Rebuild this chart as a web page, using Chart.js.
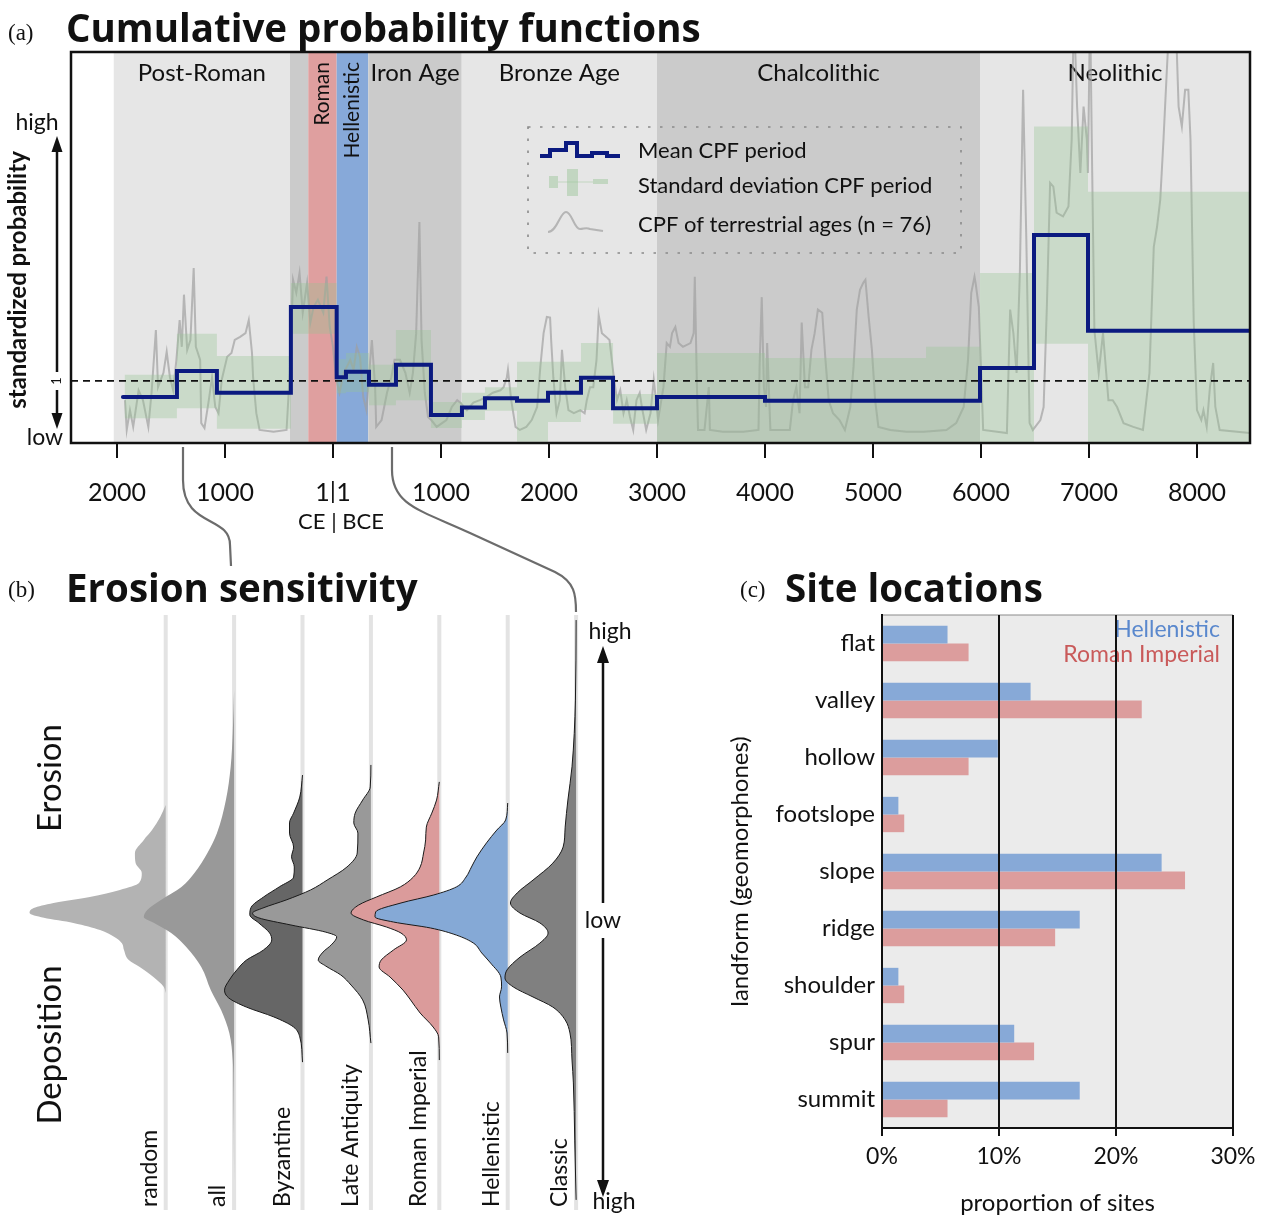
<!DOCTYPE html>
<html>
<head>
<meta charset="utf-8">
<title>Cumulative probability functions, erosion sensitivity and site locations</title>
<script src="https://cdn.jsdelivr.net/npm/chart.js@4.4.1/dist/chart.umd.min.js"></script>
<style>
  html, body { margin: 0; padding: 0; background: #fff; }
  #page { position: relative; width: 1264px; height: 1218px; overflow: hidden; }
  #page canvas { position: absolute; }
  #cpf { left: 0; top: 0; }
  #erosion { left: 0; top: 600px; }
  #sites { left: 720px; top: 600px; }
  #overlay { left: 0; top: 0; pointer-events: none; }
</style>
</head>
<body>
<div id="page">
  <canvas id="cpf" width="1264" height="545"></canvas>
  <canvas id="erosion" width="640" height="618"></canvas>
  <canvas id="sites" width="544" height="618"></canvas>
  <canvas id="overlay" width="1264" height="1218"></canvas>
</div>
<script>
Chart.defaults.font.family = "Lato";
Chart.defaults.color = "#111";

// (a) years: negative = CE, positive = BCE
const tickYears = [-2000, -1000, 0, 1000, 2000, 3000, 4000, 5000, 6000, 7000, 8000];
const yearMin = -2426;
const yearMax = 8491;

const periodNames = ["Post-Roman", "", "Roman", "Hellenistic", "Iron Age", "Bronze Age", "Chalcolithic", "Neolithic"];
const periodStart = [-2030, -398, -229, 34, 327, 1192, 3000, 5991];
const periodEnd = [-398, -229, 34, 327, 1192, 3000, 5991, 8491];
const periodColors = ["#e6e6e6", "#cbcbcb", "#df9f9f", "#87a9d9", "#cbcbcb", "#e6e6e6", "#cbcbcb", "#e6e6e6"];
const uprightNames = ["Roman", "Hellenistic"];

const meanBreaks = [-1945, -1445, -1075, -390, 34, 120, 333, 583, 907, 1194, 1407, 1704, 1991, 2296, 2593, 3000, 4000, 5991, 6491, 6991, 8600];
const meanValues = [0.74, 1.16, 0.81, 2.19, 1.06, 1.15, 0.94, 1.26, 0.45, 0.57, 0.72, 0.68, 0.81, 1.05, 0.56, 0.74, 0.68, 1.21, 3.35, 1.81];

const sdBreaks = [-1930, -1445, -1075, -390, 34, 120, 333, 583, 907, 1194, 1407, 1704, 1991, 2296, 2593, 3000, 4000, 5491, 5991, 6491, 6991, 8600];
const sdLow = [0.40, 0.56, 0.23, 1.76, 0.80, 0.82, 0.61, 0.69, 0.24, 0.37, 0.52, 0.02, 0.34, 0.53, 0.31, 0, 0, 0, 0, 1.60, 0];
const sdHigh = [1.10, 1.76, 1.40, 2.58, 1.35, 1.45, 1.26, 1.82, 0.66, 0.81, 0.90, 1.31, 1.31, 1.61, 0.79, 1.45, 1.37, 1.55, 2.74, 5.10, 4.05];

const cpfYears = [
  -1926, -1910, -1880, -1850, -1800, -1760, -1710, -1680, -1640, -1620, -1570, -1540, -1510, -1480, -1450, -1420, -1400, -1380, -1350, -1320,
  -1290, -1270, -1230, -1220, -1190, -1150, -1120, -1090, -1060, -1030, -980, -940, -910, -860, -810, -780, -750, -740, -710, -680,
  -550, -430, -400, -370, -340, -310, -280, -240, -210, -180, -140, -90, -60, -30, 0, 30, 60, 100, 160, 190,
  220, 250, 280, 310, 340, 360, 390, 400, 450, 500, 540, 570, 620, 670, 710, 740, 770, 800, 820, 850,
  880, 910, 960, 1010, 1050, 1100, 1150, 1180, 1240, 1300,
  1360, 1420, 1480, 1550, 1580, 1610, 1620, 1650, 1690, 1730, 1790, 1840, 1890, 1920, 1950, 1980, 2010, 2020, 2040, 2070,
  2100, 2120, 2150, 2180, 2230, 2290, 2330, 2350, 2380, 2410, 2440, 2460, 2490, 2530, 2560, 2600, 2630, 2660, 2690, 2720,
  2750, 2780, 2810, 2840, 2860, 2900, 2940, 2970, 3010, 3060, 3090, 3120, 3140, 3170, 3200, 3240, 3310, 3340, 3350, 3370, 3380,
  3440, 3480, 3490, 3610, 3800, 3940, 3950, 3970, 3990, 4010, 4020, 4050, 4230, 4260, 4290, 4320, 4340, 4370, 4400, 4430,
  4460, 4490, 4530, 4560, 4590, 4630, 4690, 4740, 4790, 4820, 4850, 4880, 4910, 4930, 4960, 4990, 5020, 5050, 5160, 5310,
  5470, 5680, 5770, 5840, 5880, 5910, 5940, 5950, 5980, 6000, 6020,
  6240, 6270, 6300, 6330, 6360, 6390, 6420, 6450, 6480, 6550, 6580, 6610, 6640, 6670, 6700, 6760, 6810, 6840, 6860, 6890,
  6920, 6950, 6980, 6990, 7010, 7030, 7050, 7090, 7130, 7180, 7220, 7260, 7320, 7410, 7500, 7560, 7600, 7630, 7660, 7690,
  7720, 7750, 7800, 7830, 7860, 7890, 7920, 7940, 7970, 8000, 8040, 8060, 8090, 8120, 8150, 8170, 8210, 8490
];
const cpfValues = [
  0.69, 0.21, 0.53, 0.26, 0.85, 0.69, 0.26, 0.81, 1.82, 0.90, 1.13, 1.47, 1.06, 0.85, 1.34, 1.98, 1.55, 2.39, 1.50, 1.66,
  2.82, 1.55, 1.34, 0.32, 0.24, 0.69, 1.06, 0.58, 0.48, 1.02, 1.39, 1.45, 1.66, 1.71, 1.77, 1.98, 1.45, 1.06, 0.48, 0.21,
  0.18, 0.21, 1.13, 2.63, 2.42, 2.74, 2.10, 2.58, 1.94, 2.19, 2.31, 2.10, 2.68, 1.87, 1.55, 1.02, 0.81, 1.13, 1.34, 1.18,
  1.55, 1.39, 0.74, 0.53, 1.23, 1.66, 0.90, 0.26, 0.37, 0.81, 1.06, 1.34, 1.34, 1.13, 0.81, 1.13, 1.77, 3.56, 1.66, 0.81,
  0.42, 0.37, 0.26, 0.32, 0.37, 0.58, 0.69, 0.65, 0.53, 0.65,
  0.69, 0.74, 0.81, 0.85, 0.90, 1.06, 1.18, 0.69, 0.26, 0.21, 0.26, 0.37, 0.58, 1.23, 1.77, 2.03, 2.02, 1.66, 1.06, 0.48,
  0.69, 1.50, 0.90, 0.53, 0.48, 0.53, 0.48, 0.69, 0.90, 0.90, 1.34, 2.06, 1.77, 1.71, 1.66, 1.06, 0.69, 0.85, 0.48, 0.69,
  0.42, 0.21, 0.69, 0.81, 0.58, 0.21, 0.48, 1.02, 0.37, 0.90, 1.61, 1.55, 1.77, 1.87, 1.61, 1.55, 1.61, 1.77, 2.68, 0.90, 0.21,
  0.21, 0.90, 0.21, 0.18, 0.18, 0.21, 1.23, 2.35, 0.90, 0.58, 1.61, 0.21, 0.21, 0.69, 0.90, 0.48, 1.94, 0.90, 0.90, 1.50,
  1.77, 2.15, 2.10, 1.34, 0.69, 0.48, 0.37, 0.21, 0.58, 1.23, 2.15, 2.47, 2.58, 2.63, 2.03, 1.50, 0.69, 0.26, 0.21, 0.18,
  0.18, 0.21, 0.32, 0.58, 1.34, 2.42, 2.68, 2.58, 2.19, 1.23, 0.21,
  0.16, 2.15, 1.77, 1.13, 2.74, 5.69, 3.27, 0.32, 0.21, 0.37, 0.58, 2.19, 4.19, 4.13, 3.71, 3.65, 3.81, 4.89, 7.00, 5.42,
  4.35, 5.42, 4.89, 4.35, 7.00, 4.35, 1.82, 1.13, 1.77, 0.69, 0.69, 0.58, 0.32, 0.26, 0.21, 1.13, 3.16, 3.48, 3.92, 4.89,
  5.97, 7.00, 7.00, 5.42, 5.10, 5.69, 5.69, 4.89, 1.94, 0.53, 0.37, 0.53, 0.26, 0.90, 1.29, 0.58, 0.21, 0.16
];

// (b) densities as [level, width]; level +100 = high erosion, -100 = high deposition, width in column spacings
const erosionColumns = ["random", "all", "Byzantine", "Late Antiquity", "Roman Imperial", "Hellenistic", "Classic"];
const randomDensity = [[36.1, 0], [32.1, 0.08], [27.7, 0.2], [24.4, 0.32], [20.0, 0.45], [16.6, 0.44], [13.3, 0.35], [9.9, 0.39], [7.6, 0.67], [5.2, 1.11], [3.2, 1.64], [1.5, 1.93], [-0.2, 1.99], [-1.8, 1.78], [-3.5, 1.35], [-5.9, 0.96], [-8.2, 0.75], [-10.3, 0.64], [-12.6, 0.61], [-16.0, 0.54], [-18.3, 0.38], [-21.7, 0.18], [-25.0, 0.03], [-27.1, 0]];
const allDensity = [[74.8, 0], [60.3, 0.02], [49.0, 0.05], [37.8, 0.12], [26.7, 0.25], [20.0, 0.39], [13.3, 0.58], [8.6, 0.77], [4.2, 1.07], [0.8, 1.27], [-1.5, 1.32], [-3.5, 1.17], [-6.9, 0.92], [-11.6, 0.7], [-18.3, 0.48], [-26.1, 0.34], [-32.8, 0.19], [-40.5, 0.07], [-49.6, 0.02], [-58.7, 0.01], [-89.9, 0]];
const byzantineDensity = [[46.2, 0], [38.8, 0.04], [33.4, 0.13], [30.1, 0.19], [26.7, 0.19], [22.0, 0.13], [18.7, 0.16], [15.3, 0.12], [11.9, 0.13], [8.6, 0.34], [5.2, 0.57], [1.8, 0.75], [-0.8, 0.77], [-3.5, 0.64], [-6.9, 0.48], [-9.2, 0.45], [-12.6, 0.57], [-16.0, 0.82], [-19.3, 0.96], [-22.7, 1.07], [-26.1, 1.14], [-28.7, 1.08], [-31.8, 0.82], [-35.1, 0.42], [-38.5, 0.13], [-41.8, 0.04], [-50.3, 0]];
const lateAntiquityDensity = [[49.6, 0], [42.2, 0.01], [37.8, 0.12], [33.4, 0.23], [30.1, 0.25], [26.7, 0.19], [20.0, 0.2], [15.3, 0.35], [10.9, 0.64], [7.6, 0.88], [4.2, 1.24], [1.5, 1.58], [-0.2, 1.73], [-1.8, 1.64], [-4.2, 1.17], [-6.6, 0.66], [-8.2, 0.5], [-10.9, 0.58], [-13.3, 0.7], [-16.0, 0.77], [-18.0, 0.66], [-21.0, 0.44], [-24.4, 0.29], [-29.4, 0.12], [-36.1, 0.04], [-43.9, 0]];
const romanImperialDensity = [[43.9, 0], [37.8, 0.04], [33.4, 0.11], [28.7, 0.19], [24.4, 0.2], [20.0, 0.23], [15.3, 0.28], [11.9, 0.38], [8.6, 0.57], [5.2, 0.92], [2.5, 1.18], [-0.2, 1.29], [-2.5, 1.11], [-4.9, 0.77], [-6.9, 0.56], [-9.2, 0.48], [-12.6, 0.67], [-16.0, 0.85], [-18.3, 0.88], [-21.7, 0.72], [-26.1, 0.53], [-29.4, 0.42], [-33.8, 0.28], [-38.5, 0.09], [-41.8, 0.01], [-49.6, 0]];
const hellenisticDensity = [[36.8, 0], [31.1, 0.03], [27.7, 0.16], [23.4, 0.31], [18.7, 0.45], [15.3, 0.53], [11.9, 0.61], [8.6, 0.75], [5.9, 1.08], [3.2, 1.56], [0.2, 1.93], [-1.5, 1.94], [-3.2, 1.67], [-5.2, 1.13], [-7.6, 0.75], [-10.3, 0.5], [-13.6, 0.38], [-17.0, 0.25], [-21.7, 0.1], [-25.0, 0.09], [-28.4, 0.12], [-31.8, 0.1], [-36.1, 0.06], [-40.5, 0.01], [-47.2, 0]];
const classicDensity = [[98.3, 0], [71.4, 0.01], [49.0, 0.06], [37.8, 0.12], [28.7, 0.16], [22.0, 0.19], [16.6, 0.34], [10.9, 0.63], [6.6, 0.86], [3.2, 0.96], [-0.2, 0.82], [-3.5, 0.53], [-6.9, 0.41], [-10.3, 0.53], [-15.0, 0.82], [-19.3, 1.01], [-22.0, 1.04], [-25.0, 0.92], [-28.4, 0.63], [-31.8, 0.34], [-36.1, 0.16], [-40.5, 0.09], [-49.6, 0.06], [-57.3, 0.04], [-76.5, 0.02], [-96.6, 0]];

// (c) proportion of sites, %
const landforms = ["flat", "valley", "hollow", "footslope", "slope", "ridge", "shoulder", "spur", "summit"];
const hellenisticShare = [5.6, 12.7, 9.9, 1.4, 23.9, 16.9, 1.4, 11.3, 16.9];
const romanShare = [7.4, 22.2, 7.4, 1.9, 25.9, 14.8, 1.9, 13.0, 5.6];
const shareTicks = [0, 10, 20, 30];

const navy = "#0b1a80";
const sdFill = "rgba(150, 195, 148, 0.34)";
const cpfGrey = "rgba(160, 160, 160, 0.7)";

const drawLegendA = (ctx) => {
  ctx.save();
  ctx.setLineDash([2.5, 9.5]);
  ctx.lineWidth = 1.6;
  ctx.strokeStyle = "#8a8a8a";
  ctx.strokeRect(528, 127, 433, 126);
  ctx.setLineDash([]);

  ctx.strokeStyle = navy;
  ctx.lineWidth = 4;
  ctx.beginPath();
  [[540, 156], [550, 156], [550, 150], [566, 150], [566, 143], [577, 143], [577, 156], [592, 156], [592, 153], [607, 153], [607, 156], [620, 156]]
    .forEach(([px, py], i) => (i ? ctx.lineTo(px, py) : ctx.moveTo(px, py)));
  ctx.stroke();

  ctx.fillStyle = "rgba(150, 195, 148, 0.45)";
  ctx.fillRect(549, 176, 9, 12);
  ctx.fillRect(567, 169, 11, 27);
  ctx.fillRect(593, 179, 15, 5);
  ctx.fillRect(558, 181.5, 35, 1);

  ctx.strokeStyle = cpfGrey;
  ctx.lineWidth = 2;
  ctx.beginPath();
  ctx.moveTo(548, 232);
  ctx.bezierCurveTo(557, 232, 560, 212, 566, 212);
  ctx.bezierCurveTo(572, 212, 574, 229, 580, 229);
  ctx.bezierCurveTo(584, 229, 586, 227, 590, 229);
  ctx.lineTo(603, 231);
  ctx.stroke();

  ctx.fillStyle = "#111";
  ctx.font = "22px Lato";
  ctx.textAlign = "left";
  ctx.textBaseline = "middle";
  ctx.fillText("Mean CPF period", 638, 151);
  ctx.fillText("Standard deviation CPF period", 638, 186);
  ctx.fillText("CPF of terrestrial ages (n = 76)", 638, 225);
  ctx.restore();
};

const cpfDecor = {
  id: "cpfDecor",
  beforeDatasetsDraw(chart) {
    const { ctx, chartArea: a, scales: { x } } = chart;
    ctx.save();
    ctx.beginPath();
    ctx.rect(a.left, a.top, a.width, a.height);
    ctx.clip();
    periodStart.forEach((s, i) => {
      const x0 = x.getPixelForValue(s);
      const x1 = x.getPixelForValue(periodEnd[i]);
      ctx.fillStyle = periodColors[i];
      ctx.fillRect(x0, a.top, x1 - x0, a.height);
    });
    ctx.fillStyle = "#111";
    periodNames.forEach((name, i) => {
      if (!name) return;
      const mid = x.getPixelForValue((periodStart[i] + periodEnd[i]) / 2);
      if (uprightNames.includes(name)) {
        ctx.save();
        ctx.translate(mid, a.top + 10);
        ctx.rotate(-Math.PI / 2);
        ctx.font = "21px Lato";
        ctx.textAlign = "right";
        ctx.textBaseline = "middle";
        ctx.fillText(name, 0, 0);
        ctx.restore();
      } else {
        ctx.font = "24px Lato";
        ctx.textAlign = "center";
        ctx.textBaseline = "middle";
        ctx.fillText(name, mid, a.top + 21);
      }
    });
    ctx.restore();
  },
  afterDatasetsDraw(chart) {
    const { ctx, chartArea: a } = chart;
    ctx.save();
    ctx.strokeStyle = "#111";
    ctx.lineWidth = 2.5;
    ctx.strokeRect(a.left, a.top, a.width, a.height);
    ctx.restore();
    drawLegendA(ctx);
  },
  afterDraw(chart) {
    const { ctx, scales: { x, y } } = chart;
    ctx.save();
    ctx.fillStyle = "#111";
    ctx.translate(18, 280);
    ctx.rotate(-Math.PI / 2);
    ctx.font = "bold 24px Lato";
    ctx.textAlign = "center";
    ctx.textBaseline = "middle";
    ctx.fillText("standardized probability", 0, 0);
    ctx.restore();

    ctx.save();
    ctx.fillStyle = "#111";
    ctx.strokeStyle = "#111";
    ctx.font = "23px Lato";
    ctx.textAlign = "center";
    ctx.textBaseline = "middle";
    ctx.fillText("high", 37, 123);
    ctx.fillText("low", 45, 438);
    const oneY = y.getPixelForValue(1);
    ctx.lineWidth = 2.5;
    ctx.beginPath();
    ctx.moveTo(57, 150);
    ctx.lineTo(57, oneY - 9);
    ctx.moveTo(57, oneY + 9);
    ctx.lineTo(57, 416);
    ctx.stroke();
    ctx.beginPath();
    ctx.moveTo(57, 136); ctx.lineTo(51.5, 152); ctx.lineTo(62.5, 152); ctx.closePath();
    ctx.moveTo(57, 429); ctx.lineTo(51.5, 413); ctx.lineTo(62.5, 413); ctx.closePath();
    ctx.fill();
    ctx.save();
    ctx.translate(57, oneY);
    ctx.rotate(-Math.PI / 2);
    ctx.font = "13px Lato";
    ctx.fillText("1", 0, 0);
    ctx.restore();
    ctx.font = "22px Lato";
    ctx.fillText("CE | BCE", x.getPixelForValue(0) + 8, 522);
    ctx.restore();
  }
};

const meanPoints = meanValues.map((v, i) => ({ x: meanBreaks[i], y: v }));
meanPoints.push({ x: meanBreaks[meanBreaks.length - 1], y: meanValues[meanValues.length - 1] });

const sdLowPoints = [];
const sdHighPoints = [];
sdLow.forEach((v, i) => {
  sdLowPoints.push({ x: sdBreaks[i], y: v }, { x: sdBreaks[i + 1], y: v });
  sdHighPoints.push({ x: sdBreaks[i], y: sdHigh[i] }, { x: sdBreaks[i + 1], y: sdHigh[i] });
});

new Chart(document.getElementById("cpf"), {
  type: "line",
  data: {
    datasets: [
      { label: "CPF of terrestrial ages (n = 76)", data: cpfYears.map((yr, i) => ({ x: yr, y: cpfValues[i] })), borderColor: cpfGrey, borderWidth: 2, order: 5 },
      { label: "sd low", data: sdLowPoints, borderWidth: 0, fill: false, order: 4 },
      { label: "Standard deviation CPF period", data: sdHighPoints, borderWidth: 0, fill: "-1", backgroundColor: sdFill, order: 4 },
      { label: "reference", data: [{ x: yearMin, y: 1 }, { x: yearMax, y: 1 }], borderColor: "#111", borderWidth: 1.8, borderDash: [7, 5], order: 3 },
      { label: "Mean CPF period", data: meanPoints, borderColor: navy, borderWidth: 4, stepped: true, borderCapStyle: "round", order: 2 }
    ]
  },
  options: {
    responsive: false,
    animation: false,
    devicePixelRatio: 1,
    events: [],
    layout: { padding: { left: 71, right: 14, top: 52, bottom: 42 } },
    elements: { point: { radius: 0 }, line: { tension: 0 } },
    plugins: { legend: { display: false }, tooltip: { enabled: false } },
    scales: {
      x: {
        type: "linear",
        min: yearMin,
        max: yearMax,
        afterBuildTicks: (scale) => { scale.ticks = tickYears.map((v) => ({ value: v })); },
        afterFit: (scale) => { scale.height = 60; },
        grid: { drawOnChartArea: false, drawTicks: true, tickLength: 15, color: "#111", lineWidth: 2 },
        border: { display: false },
        ticks: {
          padding: 20,
          autoSkip: false,
          maxRotation: 0,
          color: "#111",
          font: { family: "Lato", size: 25 },
          callback: (v) => (v === 0 ? "1|1" : String(Math.abs(v)))
        }
      },
      y: { type: "linear", display: false, min: 0, max: 6.3 }
    }
  },
  plugins: [cpfDecor]
});

// (b)
const densities = [randomDensity, allDensity, byzantineDensity, lateAntiquityDensity, romanImperialDensity, hellenisticDensity, classicDensity];
const erosionFills = ["#b3b3b3", "#999999", "#666666", "#999999", "#db9b9b", "#85a9d6", "#808080"];
const erosionOutlined = [false, false, true, true, true, true, true];

const erosionDecor = {
  id: "erosionDecor",
  beforeDatasetsDraw(chart) {
    const { ctx, scales: { x, y } } = chart;
    ctx.save();
    ctx.strokeStyle = "#e3e3e3";
    ctx.lineWidth = 4;
    erosionColumns.forEach((_, i) => {
      const px = x.getPixelForValue(i);
      ctx.beginPath();
      ctx.moveTo(px, y.getPixelForValue(100));
      ctx.lineTo(px, y.getPixelForValue(-100));
      ctx.stroke();
    });
    ctx.restore();
  },
  afterDraw(chart) {
    const { ctx, scales: { x, y } } = chart;
    ctx.save();
    ctx.fillStyle = "#111";
    ctx.font = "23px Lato";
    ctx.textAlign = "left";
    ctx.textBaseline = "alphabetic";
    erosionColumns.forEach((name, i) => {
      const desc = ctx.measureText(name).actualBoundingBoxDescent;
      ctx.save();
      ctx.translate(x.getPixelForValue(i) - 9 - desc, y.getPixelForValue(-99));
      ctx.rotate(-Math.PI / 2);
      ctx.fillText(name, 0, 0);
      ctx.restore();
    });
    ctx.restore();
  }
};

new Chart(document.getElementById("erosion"), {
  type: "line",
  data: {
    datasets: densities.map((dens, i) => ({
      label: erosionColumns[i],
      data: dens.map(([level, w]) => ({ x: i - w, y: level })),
      fill: { value: i },
      backgroundColor: erosionFills[i],
      borderColor: "#1a1a1a",
      borderWidth: erosionOutlined[i] ? 1 : 0,
      pointRadius: 0,
      cubicInterpolationMode: "monotone",
      order: densities.length - i
    }))
  },
  options: {
    indexAxis: "y",
    responsive: false,
    animation: false,
    devicePixelRatio: 1,
    events: [],
    layout: { padding: 0 },
    plugins: { legend: { display: false }, tooltip: { enabled: false } },
    scales: {
      x: { type: "linear", display: false, min: -2.4225, max: 6.934 },
      y: { type: "linear", display: false, min: -102.69, max: 105.04 }
    }
  },
  plugins: [erosionDecor]
});

// (c)
const siteDecor = {
  id: "siteDecor",
  beforeDraw(chart) {
    const { ctx, chartArea: a } = chart;
    ctx.save();
    ctx.fillStyle = "#ebebeb";
    ctx.fillRect(a.left, a.top, a.width, a.height);
    ctx.strokeStyle = "#8c8c8c";
    ctx.lineWidth = 1.2;
    ctx.beginPath();
    ctx.moveTo(a.left, a.top);
    ctx.lineTo(a.right, a.top);
    ctx.stroke();
    ctx.restore();
  },
  afterDatasetsDraw(chart) {
    const { ctx, chartArea: a } = chart;
    ctx.save();
    ctx.font = "23px Lato";
    ctx.textAlign = "right";
    ctx.textBaseline = "middle";
    ctx.fillStyle = "#5a88cd";
    ctx.fillText("Hellenistic", a.right - 13, a.top + 15);
    ctx.fillStyle = "#c95a5a";
    ctx.fillText("Roman Imperial", a.right - 13, a.top + 40);
    ctx.restore();
  }
};

new Chart(document.getElementById("sites"), {
  type: "bar",
  data: {
    labels: landforms,
    datasets: [
      { label: "Hellenistic", data: hellenisticShare, backgroundColor: "#87a9d7", categoryPercentage: 0.62, barPercentage: 1 },
      { label: "Roman Imperial", data: romanShare, backgroundColor: "#dc9d9d", categoryPercentage: 0.62, barPercentage: 1 }
    ]
  },
  options: {
    indexAxis: "y",
    responsive: false,
    animation: false,
    devicePixelRatio: 1,
    events: [],
    layout: { padding: { left: 0, right: 31, top: 15, bottom: 0 } },
    plugins: { legend: { display: false }, tooltip: { enabled: false } },
    scales: {
      x: {
        type: "linear",
        min: 0,
        max: 30,
        afterBuildTicks: (scale) => { scale.ticks = shareTicks.map((v) => ({ value: v })); },
        afterFit: (scale) => { scale.height = 90; },
        grid: { color: "#111", lineWidth: 2, tickLength: 8, z: 1 },
        border: { color: "#111", width: 2, z: 1 },
        ticks: { padding: 7, color: "#111", font: { family: "Lato", size: 23 }, callback: (v) => v + "%" },
        title: { display: true, text: "proportion of sites", color: "#111", font: { family: "Lato", size: 24 }, padding: { top: 0, bottom: 0 } }
      },
      y: {
        afterFit: (scale) => {
          scale.width = 162;
          scale.paddingTop = 0;
          scale.paddingBottom = 0;
        },
        grid: { display: false, drawTicks: false },
        border: { color: "#111", width: 2 },
        ticks: { padding: 7, color: "#111", font: { family: "Lato", size: 24 } },
        title: { display: true, text: "landform (geomorphones)", color: "#111", font: { family: "Lato", size: 24 }, padding: { top: 6, bottom: 0 } }
      }
    }
  },
  plugins: [siteDecor]
});

// titles, connectors and panel (b) axis cues
const ov = document.getElementById("overlay").getContext("2d");
ov.fillStyle = "#111";
ov.textBaseline = "alphabetic";
ov.textAlign = "left";
ov.font = "23px 'Liberation Serif'";
ov.fillText("(a)", 8, 40);
ov.fillText("(b)", 8, 597);
ov.fillText("(c)", 740, 597);
ov.font = "bold 38.5px 'Open Sans'";
ov.fillText("Cumulative probability functions", 66, 42);
ov.fillText("Erosion sensitivity", 66, 602);
ov.fillText("Site locations", 785, 602);

ov.strokeStyle = "#6c6c6c";
ov.lineWidth = 2.2;
ov.beginPath();
ov.moveTo(183, 447);
ov.lineTo(183, 480);
ov.bezierCurveTo(183, 528, 230, 515, 230, 545);
ov.lineTo(231, 566);
ov.moveTo(392, 447);
ov.lineTo(392, 470);
ov.bezierCurveTo(392, 505, 420, 510, 470, 533);
ov.lineTo(555, 572);
ov.bezierCurveTo(575, 582, 576, 595, 576, 612);
ov.stroke();

ov.save();
ov.font = "33px Lato";
ov.textAlign = "center";
ov.textBaseline = "middle";
ov.translate(50, 778);
ov.rotate(-Math.PI / 2);
ov.fillText("Erosion", 0, 0);
ov.restore();
ov.save();
ov.font = "33px Lato";
ov.textAlign = "center";
ov.textBaseline = "middle";
ov.translate(50, 1045);
ov.rotate(-Math.PI / 2);
ov.fillText("Deposition", 0, 0);
ov.restore();

ov.save();
ov.strokeStyle = "#111";
ov.fillStyle = "#111";
ov.lineWidth = 2.5;
ov.beginPath();
ov.moveTo(603, 660);
ov.lineTo(603, 903);
ov.moveTo(603, 938);
ov.lineTo(603, 1182);
ov.stroke();
ov.beginPath();
ov.moveTo(603, 646); ov.lineTo(597, 663); ov.lineTo(609, 663); ov.closePath();
ov.moveTo(603, 1197); ov.lineTo(597, 1180); ov.lineTo(609, 1180); ov.closePath();
ov.fill();
ov.font = "23px Lato";
ov.textAlign = "center";
ov.textBaseline = "middle";
ov.fillText("high", 610, 632);
ov.fillText("low", 603, 921);
ov.fillText("high", 614, 1202);
ov.restore();
</script>
</body>
</html>
